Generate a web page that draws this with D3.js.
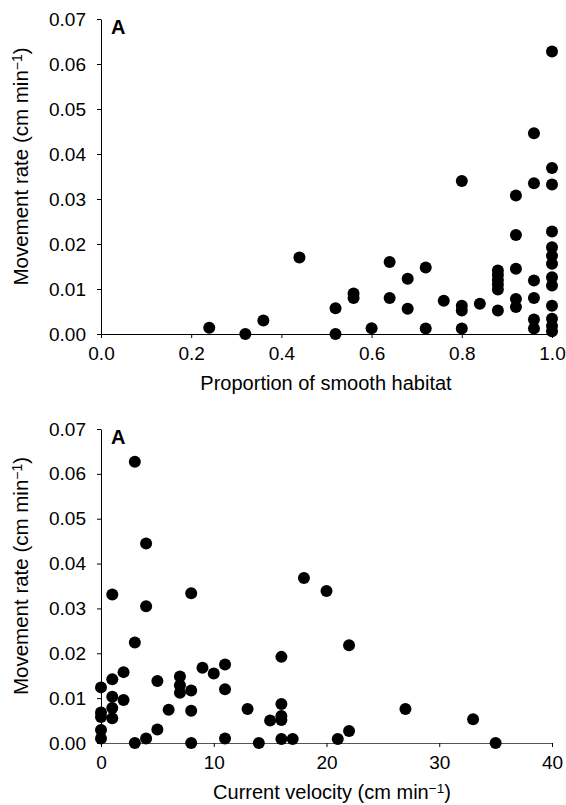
<!DOCTYPE html>
<html>
<head>
<meta charset="utf-8">
<script src="https://cdn.jsdelivr.net/npm/d3@7"></script>
<style>
    body { margin: 0; background: #fff; }
    svg { display: block; font-family: "Liberation Sans", Arial, sans-serif; }
    .tick text { font-size: 19px; fill: #000; }
    .xtitle { font-size: 20px; fill: #000; }
    .ytitle { font-size: 20.5px; fill: #000; }
    .panel-label { font-size: 20px; font-weight: bold; }
</style>
</head>
<body>
<svg id="chart" width="566" height="805"></svg>
<script>
// Top panel: proportion of smooth habitat vs movement rate
let habitatX = [
    0.24, 0.32, 0.36, 0.44, 0.52, 0.52, 0.56, 0.56, 0.60, 0.64, 0.64,
    0.68, 0.68, 0.72, 0.72, 0.76, 0.80, 0.80, 0.80, 0.80, 0.84,
    0.88, 0.88, 0.88, 0.88, 0.88, 0.88,
    0.92, 0.92, 0.92, 0.92, 0.92,
    0.96, 0.96, 0.96, 0.96, 0.96, 0.96,
    1.0, 1.0, 1.0, 1.0, 1.0, 1.0, 1.0, 1.0, 1.0, 1.0, 1.0, 1.0, 1.0
];
let habitatRate = [
    0.0014, 0.0, 0.0030, 0.0170, 0.0057, 0.0, 0.0090, 0.0080, 0.0013, 0.0160, 0.0080,
    0.0123, 0.0056, 0.0148, 0.0012, 0.0074, 0.0340, 0.0063, 0.0052, 0.0012, 0.0067,
    0.0141, 0.0131, 0.0120, 0.0110, 0.0099, 0.0052,
    0.0308, 0.0220, 0.0145, 0.0078, 0.0060,
    0.0446, 0.0335, 0.0119, 0.0080, 0.0032, 0.0012,
    0.0628, 0.0369, 0.0332, 0.0228, 0.0193, 0.0174, 0.0156, 0.0126, 0.0108, 0.0063, 0.0034, 0.0018, 0.0006
];

// Bottom panel: current velocity vs movement rate
let velocityX = [
    0, 0, 0, 0, 0,
    1, 1, 1, 1, 1,
    2, 2, 3, 3, 3, 4, 4, 4, 5, 5, 6,
    7, 7, 7, 8, 8, 8, 8, 9, 10, 11, 11, 11,
    13, 14, 15, 16, 16, 16, 16, 16, 17, 18, 20, 21, 22, 22, 27, 33, 35
];
let velocityRate = [
    0.0124, 0.0068, 0.0058, 0.0029, 0.0010,
    0.0331, 0.0142, 0.0103, 0.0078, 0.0055,
    0.0158, 0.0096, 0.0627, 0.0224, 0.0, 0.0445, 0.0305, 0.0010, 0.0138, 0.0030, 0.0074,
    0.0148, 0.0129, 0.0112, 0.0334, 0.0117, 0.0072, 0.0, 0.0168, 0.0155, 0.0175, 0.0120, 0.0010,
    0.0076, 0.0, 0.0050, 0.0192, 0.0087, 0.0060, 0.0051, 0.0009, 0.0009, 0.0368, 0.0339, 0.0009, 0.0218, 0.0027, 0.0076, 0.0053, 0.0
];

let rateTicks = [0, 0.01, 0.02, 0.03, 0.04, 0.05, 0.06, 0.07];
let habitatTicks = [0, 0.2, 0.4, 0.6, 0.8, 1.0];
let velocityTicks = [0, 10, 20, 30, 40];

const svg = d3.select("#chart");

// "... (cm min−1)" with a raised −1
function unitTitle(t, start) {
    t.append("tspan").text(start + " (cm min");
    t.append("tspan").attr("font-size", "0.68em").attr("dy", "-0.45em").text("\u22121");
    t.append("tspan").attr("dy", "0.31em").text(")");
}

function drawPanel(opts) {
    let x = d3.scaleLinear().domain(opts.xDomain).range([101, 552]);
    let y = d3.scaleLinear().domain([0, 0.07]).range([opts.bottom, opts.top]);
    let g = svg.append("g");

    g.append("g")
        .attr("transform", "translate(101,0)")
        .call(d3.axisLeft(y).tickValues(rateTicks).tickFormat(d3.format(".2f"))
            .tickSize(4).tickSizeOuter(0).tickPadding(11));

    let xAxis = g.append("g")
        .attr("transform", `translate(0,${opts.bottom})`)
        .call(d3.axisBottom(x).tickValues(opts.xTicks).tickFormat(opts.xFormat)
            .tickSize(4).tickSizeOuter(0).tickPadding(9));
    xAxis.select(".domain").attr("stroke", opts.xAxisColor);

    g.append("g")
        .selectAll("circle")
        .data(opts.xs.map((d, i) => [d, opts.ys[i]]))
        .join("circle")
        .attr("cx", (d) => x(d[0]))
        .attr("cy", (d) => y(d[1]))
        .attr("r", 6)
        .attr("fill", "#000");

    g.append("text")
        .attr("class", "panel-label")
        .attr("x", 111)
        .attr("y", opts.top + 15)
        .text("A");

    let xt = g.append("text")
        .attr("class", "xtitle")
        .attr("text-anchor", "middle")
        .attr("x", opts.xTitleX)
        .attr("y", opts.bottom + 56);
    opts.xTitle(xt);

    let yt = g.append("text")
        .attr("class", "ytitle")
        .attr("text-anchor", "middle")
        .attr("transform", `translate(28,${(opts.top + opts.bottom) / 2 - 10}) rotate(-90)`);
    unitTitle(yt, "Movement rate");
}

drawPanel({
    top: 19, bottom: 334,
    xDomain: [0, 1], xTicks: habitatTicks, xFormat: d3.format(".1f"),
    xAxisColor: "#000", xTitleX: 326,
    xs: habitatX, ys: habitatRate,
    xTitle: (t) => t.text("Proportion of smooth habitat")
});

drawPanel({
    top: 429, bottom: 743,
    xDomain: [0, 40], xTicks: velocityTicks, xFormat: d3.format("d"),
    xAxisColor: "#555", xTitleX: 332,
    xs: velocityX, ys: velocityRate,
    xTitle: (t) => unitTitle(t, "Current velocity")
});
</script>
</body>
</html>
